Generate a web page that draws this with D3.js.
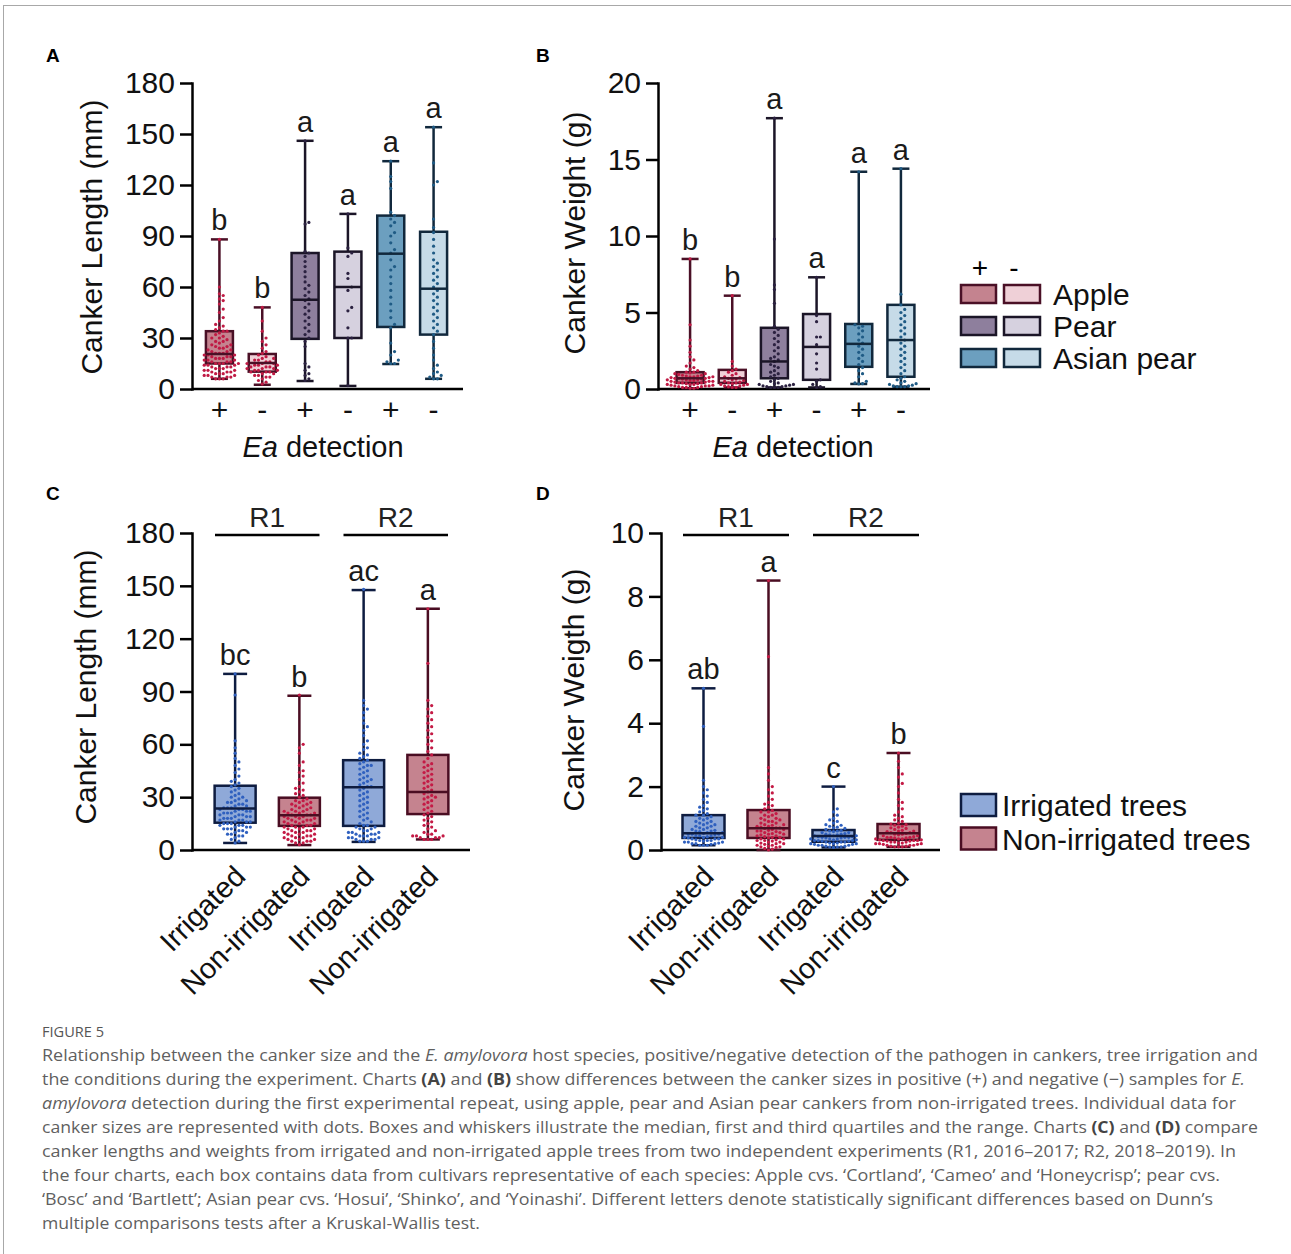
<!DOCTYPE html>
<html><head><meta charset="utf-8">
<script src="https://cdn.jsdelivr.net/npm/d3@7"></script>
<style>body{margin:0;background:#fff} svg{display:block}</style>
</head><body>
<svg id="fig" width="1291" height="1254"></svg>
<script>
// ---------- DATA ----------
const catsAB = ["Apple +","Apple -","Pear +","Pear -","Asian pear +","Asian pear -"];
const detLabels = ["+","-","+","-","+","-"];
const lettersA = ["b","b","a","a","a","a"];
const lettersB = ["b","b","a","a","a","a"];
const ticksA = [0,30,60,90,120,150,180];
const ticksB = [0,5,10,15,20];

// Panel A: canker length (mm) box stats
const minA = [6,2.5,4.7,1.8,14.7,6];
const q1A  = [15,10.2,29.5,30,36.5,32];
const medA = [20.6,15.3,52.5,60,79.6,59];
const q3A  = [34,20.6,80,80.8,102,92.5];
const maxA = [88,48,146,103,134,154];

// Panel A dots
const dotsA1 = [6,6,6,7,7,7,8,8,8,9,9,9,10,10,10,11,11,11,12,12,12,13,13,13,14,14,14,15,15,15,15,16,16,16,17,17,17,18,18,18,19,19,19,20,20,20,21,21,21,22,22,23,23,24,24,25,25,26,26,27,28,28,29,30,30,31,32,33,34,34,35,36,37,38,40,42,45,47,50,52,53,55,56,60,88];
const dotsA2 = [3,4,5,6,7,7,8,8,9,9,10,10,10,11,11,11,12,12,12,13,13,13,14,14,14,15,15,15,16,16,17,17,18,18,19,20,21,22,24,26,28,30,34,40,48];
const dotsA3 = [5,6,8,9,11,13,15,25,28,30,32,34,36,38,40,42,44,46,48,50,52,53,55,57,59,61,63,66,69,72,75,78,80,81,97,98,146];
const dotsA4 = [2,30,30,36,46,48,58,60,65,68,78,80,83,103];
const dotsA5 = [15,15,16,17,20,22,27,36,38,42,46,50,54,58,62,66,70,72,76,80,82,86,90,92,96,98,100,102,104,118,122,125,134];
const dotsA6 = [6,6,7,8,9,10,12,14,17,20,24,28,32,34,36,38,40,42,44,46,48,50,52,54,56,58,60,62,64,66,68,70,72,74,76,80,84,88,92,95,100,120,122,133,154];

// Panel B: canker weight (g) box stats
const minB = [0.05,0.1,0.1,0.1,0.33,0.15];
const q1B  = [0.4,0.4,0.7,0.6,1.45,0.8];
const medB = [0.7,0.7,1.8,2.75,2.95,3.2];
const q3B  = [1.1,1.25,4.0,4.9,4.25,5.5];
const maxB = [8.5,6.1,17.7,7.3,14.2,14.4];

const dotsB1 = [0.05,0.05,0.1,0.1,0.1,0.15,0.15,0.2,0.2,0.2,0.25,0.25,0.3,0.3,0.3,0.35,0.35,0.4,0.4,0.4,0.45,0.45,0.5,0.5,0.5,0.55,0.55,0.6,0.6,0.6,0.65,0.65,0.7,0.7,0.7,0.75,0.75,0.8,0.8,0.8,0.85,0.85,0.9,0.9,0.95,1.0,1.0,1.05,1.1,1.1,1.2,1.3,1.4,1.5,1.7,1.9,2.1,2.4,2.8,3.2,4.2,8.5];
const dotsB2 = [0.1,0.1,0.15,0.2,0.2,0.25,0.3,0.3,0.35,0.4,0.4,0.45,0.5,0.55,0.6,0.65,0.7,0.75,0.8,0.9,1.0,1.1,1.2,1.3,1.5,1.8,6.1];
const dotsB3 = [0.1,0.1,0.1,0.15,0.15,0.2,0.2,0.25,0.3,0.3,0.35,0.4,0.5,0.6,0.7,0.8,0.9,1.0,1.1,1.2,1.4,1.5,1.6,1.8,1.9,2.0,2.1,2.3,2.5,2.7,2.9,3.1,3.3,3.5,3.7,3.9,4.1,5.6,6.5,6.8,9.8,17.7];
const dotsB4 = [0.1,0.15,0.3,0.5,0.6,1.3,1.7,2.3,2.9,3.4,3.4,4.4,4.8,7.3];
const dotsB5 = [0.33,0.35,0.4,0.5,0.8,1.0,1.2,1.4,1.6,1.8,2.0,2.2,2.4,2.6,2.8,3.0,3.2,3.4,3.6,3.8,4.0,4.1,4.2,14.2];
const dotsB6 = [0.15,0.15,0.15,0.2,0.2,0.25,0.3,0.35,0.4,0.5,0.6,0.7,0.8,1.0,1.2,1.4,1.6,1.8,2.0,2.2,2.4,2.6,2.8,3.0,3.2,3.4,3.6,3.8,4.0,4.2,4.4,4.6,4.8,5.0,5.2,5.5,6.2,14.4];

// Panels C/D
const catsCD = ["R1 Irrigated","R1 Non-irrigated","R2 Irrigated","R2 Non-irrigated"];
const irrLabels = ["Irrigated","Non-irrigated","Irrigated","Non-irrigated"];
const repLabels = ["R1","R2"];
const lettersC = ["bc","b","ac","a"];
const lettersD = ["ab","a","c","b"];
const ticksC = [0,30,60,90,120,150,180];
const ticksD = [0,2,4,6,8,10];

const minC = [4,2.8,4.6,6];
const q1C  = [15.5,13.7,13.7,20.4];
const medC = [23.5,19.7,35.6,33];
const q3C  = [36.5,29.7,51,54];
const maxC = [100,87.6,147.6,137];

const dotsC1 = [4,5,6,7,8,8,9,9,10,10,11,11,12,12,12,13,13,13,14,14,14,15,15,15,16,16,16,17,17,17,18,18,18,19,19,19,20,20,20,21,21,21,22,22,22,23,23,23,24,24,24,25,25,26,26,27,27,28,28,29,30,30,31,32,33,34,35,36,37,38,39,40,42,44,46,48,50,52,55,58,62,88,100];
const dotsC2 = [3,4,4,5,5,5,6,6,6,7,7,7,8,8,8,9,9,9,10,10,10,11,11,11,12,12,12,13,13,13,14,14,14,15,15,15,16,16,16,17,17,17,18,18,18,19,19,19,20,20,20,21,21,21,22,22,22,23,23,24,24,25,25,26,26,27,27,28,28,29,30,31,32,33,34,35,36,38,40,42,44,45,48,50,55,58,60,88];
const dotsC3 = [5,5,5,6,6,6,7,7,7,8,8,8,9,9,9,10,10,10,11,11,12,12,13,13,14,14,15,16,17,18,19,20,21,22,23,24,25,26,27,28,29,30,31,32,33,34,35,36,36,37,38,39,40,40,41,42,43,44,45,46,47,48,48,49,50,51,52,53,54,55,57,58,60,62,65,68,70,72,75,78,80,82,85,148];
const dotsC4 = [6,6,6,7,7,7,8,8,8,9,9,10,11,12,13,14,15,16,17,18,19,20,21,22,23,24,25,26,27,28,29,30,30,31,32,33,34,35,36,37,38,39,40,41,42,43,44,45,46,47,48,49,50,52,54,56,58,60,62,64,66,68,70,72,74,76,78,80,82,85,106,137];

const minD = [0.15,0,0.08,0.1];
const q1D  = [0.38,0.38,0.26,0.32];
const medD = [0.53,0.69,0.44,0.53];
const q3D  = [1.1,1.26,0.63,0.82];
const maxD = [5.1,8.5,2.0,3.06];

const dotsD1 = [0.15,0.15,0.15,0.18,0.2,0.2,0.2,0.22,0.25,0.25,0.25,0.28,0.3,0.3,0.3,0.32,0.35,0.35,0.35,0.38,0.4,0.4,0.4,0.42,0.45,0.45,0.45,0.48,0.5,0.5,0.5,0.52,0.55,0.55,0.58,0.6,0.6,0.62,0.65,0.65,0.7,0.7,0.75,0.75,0.8,0.8,0.85,0.85,0.9,0.9,0.95,1.0,1.0,1.05,1.1,1.1,1.15,1.2,1.25,1.3,1.35,1.4,1.5,1.6,1.7,1.8,1.9,2.0,2.2,3.9,5.1];
const dotsD2 = [0,0.03,0.05,0.08,0.1,0.1,0.12,0.15,0.15,0.18,0.2,0.2,0.22,0.25,0.25,0.28,0.3,0.3,0.32,0.35,0.35,0.38,0.4,0.4,0.42,0.45,0.45,0.48,0.5,0.5,0.52,0.55,0.55,0.58,0.6,0.6,0.62,0.65,0.65,0.68,0.7,0.7,0.72,0.75,0.75,0.78,0.8,0.8,0.85,0.85,0.9,0.9,0.95,0.95,1.0,1.0,1.05,1.1,1.1,1.15,1.2,1.2,1.25,1.3,1.35,1.4,1.45,1.5,1.6,1.7,1.8,1.9,2.0,2.2,2.4,2.6,6.1,8.5];
const dotsD3 = [0.08,0.1,0.1,0.1,0.12,0.12,0.15,0.15,0.15,0.18,0.18,0.2,0.2,0.2,0.22,0.22,0.25,0.25,0.25,0.28,0.28,0.3,0.3,0.3,0.32,0.32,0.35,0.35,0.35,0.38,0.38,0.4,0.4,0.4,0.42,0.42,0.45,0.45,0.45,0.48,0.48,0.5,0.5,0.52,0.55,0.55,0.58,0.6,0.6,0.62,0.65,0.68,0.7,0.72,0.75,0.78,0.8,0.85,0.9,0.95,1.0,1.1,1.2,1.3,2.0];
const dotsD4 = [0.1,0.1,0.1,0.12,0.12,0.15,0.15,0.15,0.18,0.18,0.2,0.2,0.2,0.22,0.22,0.25,0.25,0.25,0.28,0.28,0.3,0.3,0.3,0.32,0.32,0.35,0.35,0.35,0.38,0.38,0.4,0.4,0.4,0.42,0.45,0.45,0.48,0.5,0.5,0.52,0.55,0.55,0.58,0.6,0.6,0.62,0.65,0.68,0.7,0.72,0.75,0.78,0.8,0.82,0.85,0.9,0.95,1.0,1.05,1.1,1.2,1.3,1.4,1.5,1.6,1.8,2.0,2.1,2.3,2.4,2.6,2.8,3.06];

const legendAB = ["Apple","Pear","Asian pear"];
const legendCD = ["Irrigated trees","Non-irrigated trees"];

// ---------- STYLE ----------
const FONT = "'Liberation Sans', Arial, Helvetica, sans-serif";
const fillsAB   = ["#c4838f","#efd0d7","#8e7f9d","#d6d1df","#6c9fbf","#c6dbe8"];
const strokesAB = ["#4a1026","#4a1026","#1b1527","#1b1527","#11283c","#11283c"];
const dotColAB  = ["#c01a44","#c01a44","#2b2140","#2b2140","#1f5b85","#1f5b85"];
const fillsCD   = ["#8fa9d8","#c5838f","#8fa9d8","#c5838f"];
const strokesCD = ["#0e1c40","#4a0d22","#0e1c40","#4a0d22"];
const dotColCD  = ["#2f60bf","#c41a45","#2f60bf","#c41a45"];

const svg = d3.select("#fig");

// frame
svg.append("line").attr("x1",3).attr("x2",1291).attr("y1",5.5).attr("y2",5.5).attr("stroke","#a8a8a8");
svg.append("line").attr("x1",3.5).attr("x2",3.5).attr("y1",5).attr("y2",1254).attr("stroke","#a8a8a8");

function swarm(values, y, r) {
  const sorted = values.slice().sort((a,b)=>a-b);
  const step = 2*r + 0.6;
  const placed = [];
  for (const v of sorted) {
    const py = y(v);
    let k = 0, off = 0;
    while (k < 60) {
      off = k===0 ? 0 : (k%2 ? 1 : -1) * Math.ceil(k/2) * step;
      const ok = placed.every(p => (p.x-off)*(p.x-off) + (p.y-py)*(p.y-py) >= step*step*0.92);
      if (ok) break;
      k++;
    }
    placed.push({x:off, y:py});
  }
  return placed;
}

function panel(o) {
  const g = svg.append("g");
  const x = d3.scaleBand().domain(o.cats).range(o.xr);
  const y = d3.scaleLinear().domain(o.ydom).range(o.yr);

  g.append("line").attr("x1",o.x0).attr("x2",o.xEnd).attr("y1",o.yr[0]).attr("y2",o.yr[0])
    .attr("stroke","#000").attr("stroke-width",2.5);
  const yg = g.append("g").attr("transform",`translate(${o.x0},0)`)
    .call(d3.axisLeft(y).tickValues(o.yticks).tickSize(12).tickPadding(5).tickSizeOuter(0));
  yg.select(".domain").attr("stroke","#000").attr("stroke-width",2.5).attr("stroke-linecap","square");
  yg.selectAll(".tick line").attr("stroke","#000").attr("stroke-width",2.5);
  yg.selectAll(".tick text").attr("font-size",30).attr("font-family",FONT).attr("fill","#111");

  const xg = g.append("g").attr("transform",`translate(0,${o.yr[0]})`)
    .call(d3.axisBottom(x).tickSize(0).tickFormat((d,i)=>o.xlabels[i]));
  xg.select(".domain").remove();
  xg.selectAll(".tick text").attr("font-size",o.rotate ? 29 : 30).attr("font-family",FONT).attr("fill","#111");
  if (o.rotate) {
    xg.selectAll(".tick text").attr("text-anchor","end").attr("y",0).attr("dy",0)
      .attr("transform","translate(12,28) rotate(-45)");
  } else {
    xg.selectAll(".tick text").attr("y",0).attr("dy",0).attr("transform","translate(0,31)");
  }

  o.cats.forEach((c,i) => {
    const cx = x(c) + x.bandwidth()/2;
    const st = o.strokes[i];
    g.append("line").attr("x1",cx).attr("x2",cx).attr("y1",y(o.max[i])).attr("y2",y(o.min[i]))
      .attr("stroke",st).attr("stroke-width",2.5);
    [o.max[i], o.min[i]].forEach(v => {
      g.append("line").attr("x1",cx-o.capW/2).attr("x2",cx+o.capW/2).attr("y1",y(v)).attr("y2",y(v))
        .attr("stroke",st).attr("stroke-width",2.5);
    });
    g.append("rect").attr("x",cx-o.boxW/2).attr("width",o.boxW)
      .attr("y",y(o.q3[i])).attr("height",y(o.q1[i])-y(o.q3[i]))
      .attr("fill",o.fills[i]).attr("stroke",st).attr("stroke-width",2.5);
    const pts = swarm(o.dots[i], y, o.r);
    g.append("g").selectAll("circle").data(pts).join("circle")
      .attr("cx",p=>cx+p.x).attr("cy",p=>p.y).attr("r",o.r).attr("fill",o.dotCols[i]);
    g.append("line").attr("x1",cx-o.boxW/2).attr("x2",cx+o.boxW/2).attr("y1",y(o.med[i])).attr("y2",y(o.med[i]))
      .attr("stroke",st).attr("stroke-width",2.5);
    g.append("text").attr("x",cx).attr("y",y(o.max[i])-9).attr("text-anchor","middle")
      .attr("font-size",29).attr("font-family",FONT).attr("fill","#1a1a1a").text(o.letters[i]);
  });

  g.append("text").attr("transform",`translate(${o.titleX},${o.titleY}) rotate(-90)`)
    .attr("text-anchor","middle").attr("font-size",30).attr("font-family",FONT).attr("fill","#111")
    .text(o.title);
  g.append("text").attr("x",o.letterPos[0]).attr("y",o.letterPos[1]).attr("font-size",19)
    .attr("font-weight","bold").attr("font-family",FONT).text(o.letter);
  return {g, x, y};
}

const pA = panel({cats:catsAB, xlabels:detLabels, xr:[198,455], x0:192, xEnd:463, ydom:[0,180], yr:[389,83], yticks:ticksA,
  min:minA,q1:q1A,med:medA,q3:q3A,max:maxA, dots:[dotsA1,dotsA2,dotsA3,dotsA4,dotsA5,dotsA6],
  fills:fillsAB, strokes:strokesAB, dotCols:dotColAB, boxW:27, capW:17, r:1.6, letters:lettersA,
  title:"Canker Length (mm)", titleX:102, titleY:237, letter:"A", letterPos:[46,62]});
const pB = panel({cats:catsAB, xlabels:detLabels, xr:[669,922], x0:658, xEnd:930, ydom:[0,20], yr:[389,83], yticks:ticksB,
  min:minB,q1:q1B,med:medB,q3:q3B,max:maxB, dots:[dotsB1,dotsB2,dotsB3,dotsB4,dotsB5,dotsB6],
  fills:fillsAB, strokes:strokesAB, dotCols:dotColAB, boxW:27, capW:17, r:1.6, letters:lettersB,
  title:"Canker Weight (g)", titleX:585, titleY:233, letter:"B", letterPos:[536,62]});
const pC = panel({cats:catsCD, xlabels:irrLabels, rotate:true, xr:[203,460], x0:192, xEnd:470, ydom:[0,180], yr:[850,533], yticks:ticksC,
  min:minC,q1:q1C,med:medC,q3:q3C,max:maxC, dots:[dotsC1,dotsC2,dotsC3,dotsC4],
  fills:fillsCD, strokes:strokesCD, dotCols:dotColCD, boxW:41, capW:24, r:1.6, letters:lettersC,
  title:"Canker Length (mm)", titleX:96, titleY:687, letter:"C", letterPos:[46,500]});
const pD = panel({cats:catsCD, xlabels:irrLabels, rotate:true, xr:[671,931], x0:661, xEnd:940, ydom:[0,10], yr:[850,533], yticks:ticksD,
  min:minD,q1:q1D,med:medD,q3:q3D,max:maxD, dots:[dotsD1,dotsD2,dotsD3,dotsD4],
  fills:fillsCD, strokes:strokesCD, dotCols:dotColCD, boxW:42, capW:24, r:1.6, letters:lettersD,
  title:"Canker Weigth (g)", titleX:584, titleY:690, letter:"D", letterPos:[536,500]});

[[pA,323],[pB,793]].forEach(([p,cx]) => {
  const t = svg.append("text").attr("x",cx).attr("y",457).attr("text-anchor","middle")
    .attr("font-size",29).attr("font-family",FONT).attr("fill","#111");
  t.append("tspan").attr("font-style","italic").text("Ea");
  t.append("tspan").text(" detection");
});

[pC,pD].forEach(p => {
  [[0,1],[2,3]].forEach((pair,k) => {
    const xa = p.x(catsCD[pair[0]]) + 12, xb = p.x(catsCD[pair[1]]) + p.x.bandwidth() - 12;
    svg.append("line").attr("x1",xa).attr("x2",xb).attr("y1",535).attr("y2",535).attr("stroke","#000").attr("stroke-width",2.5);
    svg.append("text").attr("x",(xa+xb)/2).attr("y",527).attr("text-anchor","middle")
      .attr("font-size",28).attr("font-family",FONT).attr("fill","#222").text(repLabels[k]);
  });
});

// Legend A/B
const lg1 = svg.append("g");
lg1.append("text").attr("x",980).attr("y",277).attr("text-anchor","middle").attr("font-size",28).attr("font-family",FONT).text("+");
lg1.append("text").attr("x",1014).attr("y",277).attr("text-anchor","middle").attr("font-size",28).attr("font-family",FONT).text("-");
legendAB.forEach((name,i) => {
  const yy = 285 + i*32;
  lg1.append("rect").attr("x",961).attr("y",yy).attr("width",35).attr("height",18)
    .attr("fill",fillsAB[2*i]).attr("stroke",strokesAB[2*i]).attr("stroke-width",2.5);
  lg1.append("rect").attr("x",1004).attr("y",yy).attr("width",36).attr("height",18)
    .attr("fill",fillsAB[2*i+1]).attr("stroke",strokesAB[2*i+1]).attr("stroke-width",2.5);
  lg1.append("text").attr("x",1053).attr("y",yy+20).attr("font-size",30).attr("font-family",FONT).attr("fill","#111").text(name);
});

// Legend C/D
const lg2 = svg.append("g");
legendCD.forEach((name,i) => {
  const yy = 794 + i*33.5;
  lg2.append("rect").attr("x",961).attr("y",yy).attr("width",35).attr("height",22)
    .attr("fill",fillsCD[i]).attr("stroke",strokesCD[i]).attr("stroke-width",2.5);
  lg2.append("text").attr("x",1002).attr("y",yy+22).attr("font-size",30).attr("font-family",FONT).attr("fill","#111").text(name);
});

// Caption
const capFont = "'Open Sans', 'Noto Sans', sans-serif";
svg.append("text").attr("x",42).attr("y",1037).attr("font-size",14).attr("font-family",capFont)
  .attr("fill","#555").attr("textLength",62).attr("lengthAdjust","spacingAndGlyphs").text("FIGURE 5");
const capLines = [
  [["Relationship between the canker size and the ",""],["E. amylovora","i"],[" host species, positive/negative detection of the pathogen in cankers, tree irrigation and",""]],
  [["the conditions during the experiment. Charts ",""],["(A)","b"],[" and ",""],["(B)","b"],[" show differences between the canker sizes in positive (+) and negative (\u2212) samples for ",""],["E.","i"]],
  [["amylovora","i"],[" detection during the first experimental repeat, using apple, pear and Asian pear cankers from non-irrigated trees. Individual data for",""]],
  [["canker sizes are represented with dots. Boxes and whiskers illustrate the median, first and third quartiles and the range. Charts ",""],["(C)","b"],[" and ",""],["(D)","b"],[" compare",""]],
  [["canker lengths and weights from irrigated and non-irrigated apple trees from two independent experiments (R1, 2016\u20132017; R2, 2018\u20132019). In",""]],
  [["the four charts, each box contains data from cultivars representative of each species: Apple cvs. \u2018Cortland\u2019, \u2018Cameo\u2019 and \u2018Honeycrisp\u2019; pear cvs.",""]],
  [["\u2018Bosc\u2019 and \u2018Bartlett\u2019; Asian pear cvs. \u2018Hosui\u2019, \u2018Shinko\u2019, and \u2018Yoinashi\u2019. Different letters denote statistically significant differences based on Dunn\u2019s",""]],
  [["multiple comparisons tests after a Kruskal-Wallis test.",""]]
];
const capEnds = [1258,1245,1236,1258,1236,1220,1213,480];
capLines.forEach((parts,li) => {
  const t = svg.append("text").attr("x",42).attr("y",1061 + li*24).attr("font-size",16.5)
    .attr("font-family",capFont).attr("fill","#5f5f5f")
    .attr("textLength",capEnds[li]-42).attr("lengthAdjust","spacingAndGlyphs");
  parts.forEach(([s,st]) => {
    const ts = t.append("tspan").text(s);
    if (st==="i") ts.attr("font-style","italic");
    if (st==="b") ts.attr("font-weight","bold").attr("fill","#444");
  });
});
</script>
</body></html>
